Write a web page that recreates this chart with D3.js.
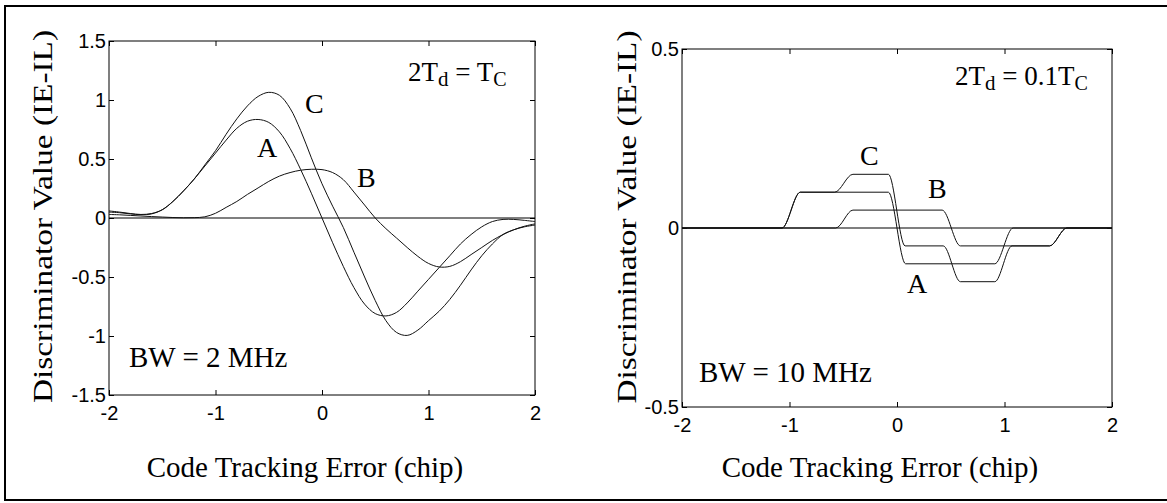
<!DOCTYPE html>
<html>
<head>
<meta charset="utf-8">
<script src="https://cdn.jsdelivr.net/npm/d3@7"></script>
<style>
body { margin:0; background:#fff; }
.serif { font-family: "Liberation Serif", "Times New Roman", serif; fill:#000; }
</style>
</head>
<body>
<svg id="fig" width="1167" height="503"></svg>
<script>
// left panel: BW = 2 MHz, 2Td = Tc
var x2 = [-2,-1.9,-1.8,-1.7,-1.6,-1.5,-1.4,-1.3,-1.2,-1.1,-1,-0.9,-0.8,-0.7,-0.6,-0.5,-0.4,-0.3,-0.2,-0.1,
          0,0.1,0.2,0.3,0.4,0.5,0.6,0.7,0.8,0.9,1,1.1,1.2,1.3,1.4,1.5,1.6,1.7,1.8,1.9,2];
var a2 = [0.05,0.045,0.035,0.028,0.035,0.07,0.14,0.23,0.33,0.44,0.55,0.66,0.76,0.82,0.835,0.81,0.73,0.59,0.41,0.21,
          0,-0.21,-0.41,-0.59,-0.73,-0.81,-0.83,-0.8,-0.72,-0.62,-0.52,-0.42,-0.32,-0.22,-0.14,-0.075,-0.03,-0.012,-0.012,-0.02,-0.03];
var b2 = [0.03,0.027,0.022,0.017,0.012,0.008,0.004,0.002,0.003,0.01,0.04,0.09,0.14,0.2,0.255,0.31,0.355,0.385,0.405,0.413,
          0.41,0.385,0.325,0.22,0.11,0,-0.09,-0.17,-0.25,-0.325,-0.385,-0.415,-0.41,-0.37,-0.31,-0.25,-0.19,-0.14,-0.1,-0.07,-0.05];
var c2 = [0.06,0.05,0.038,0.03,0.038,0.07,0.14,0.23,0.33,0.45,0.57,0.71,0.84,0.95,1.03,1.065,1.04,0.93,0.74,0.51,
          0.29,0.1,-0.08,-0.29,-0.5,-0.7,-0.87,-0.97,-0.995,-0.95,-0.87,-0.79,-0.69,-0.57,-0.44,-0.32,-0.22,-0.14,-0.1,-0.075,-0.06];

// right panel: BW = 10 MHz, 2Td = 0.1Tc
var xa10 = [-2,-1.07,-0.9,-0.08,0.08,0.91,1.08,2];
var a10  = [0,0,0.1,0.1,-0.1,-0.1,0,0];
var xb10 = [-2,-0.57,-0.41,0.42,0.59,1.42,1.58,2];
var b10  = [0,0,0.05,0.05,-0.05,-0.05,0,0];
var xc10 = [-2,-1.07,-0.9,-0.58,-0.41,-0.08,0.075,0.43,0.59,0.91,1.07,1.42,1.58,2];
var c10  = [0,0,0.1,0.1,0.15,0.15,-0.05,-0.05,-0.15,-0.15,-0.05,-0.05,0,0];

var xTicks = [-2,-1,0,1,2];
var yTicks2 = [-1.5,-1,-0.5,0,0.5,1,1.5];
var yTicks10 = [-0.5,0,0.5];

var svg = d3.select("#fig");

// outer frame
svg.append("rect").attr("x",5).attr("y",6).attr("width",1170).attr("height",494)
    .attr("fill","none").attr("stroke","#000").attr("stroke-width",2);

var panel = function(cfg) {
    var g = svg.append("g");
    var x = d3.scaleLinear().domain([-2,2]).range([cfg.left, cfg.right]);
    var y = d3.scaleLinear().domain(cfg.ydom).range([cfg.bottom, cfg.top]);
    var fmt = function(d){ return String(d); };

    g.append("g").attr("transform","translate(0,"+cfg.bottom+")")
        .call(d3.axisBottom(x).tickValues(xTicks).tickFormat(fmt).tickSizeInner(-5).tickSizeOuter(0).tickPadding(11));
    g.append("g").attr("transform","translate(0,"+cfg.top+")")
        .call(d3.axisTop(x).tickValues(xTicks).tickFormat("").tickSizeInner(-5).tickSizeOuter(0));
    g.append("g").attr("transform","translate("+cfg.left+",0)")
        .call(d3.axisLeft(y).tickValues(cfg.yticks).tickFormat(fmt).tickSizeInner(-5).tickSizeOuter(0).tickPadding(3));
    g.append("g").attr("transform","translate("+cfg.right+",0)")
        .call(d3.axisRight(y).tickValues(cfg.yticks).tickFormat("").tickSizeInner(-5).tickSizeOuter(0));
    g.selectAll(".domain").remove();
    g.selectAll(".tick line").attr("stroke","#000");
    g.selectAll(".tick text").attr("font-family","Arial, 'Liberation Sans', sans-serif")
        .attr("font-size",20).attr("fill","#000");

    g.append("rect").attr("x",cfg.left).attr("y",cfg.top)
        .attr("width",cfg.right-cfg.left).attr("height",cfg.bottom-cfg.top)
        .attr("fill","none").attr("stroke","#000").attr("stroke-width",1);

    g.append("line").attr("x1",x(-2)).attr("x2",x(2)).attr("y1",y(0)).attr("y2",y(0))
        .attr("stroke","#000").attr("stroke-width",1.2);

    var line = d3.line().x(function(d){ return x(d[0]); }).y(function(d){ return y(d[1]); }).curve(cfg.curve);
    cfg.series.forEach(function(s) {
        g.append("path").datum(d3.zip(s[0], s[1])).attr("d", line)
            .attr("fill","none").attr("stroke","#111").attr("stroke-width",1);
    });

    cfg.labels.forEach(function(l) {
        g.append("text").attr("class","serif").attr("x",l[1]).attr("y",l[2])
            .attr("font-size",28).text(l[0]);
    });

    g.append("text").attr("class","serif").attr("x",cfg.bw[0]).attr("y",cfg.bw[1])
        .attr("font-size",29).text(cfg.bw[2]);

    var t = g.append("text").attr("class","serif").attr("x",cfg.td[0]).attr("y",cfg.td[1]).attr("font-size",27);
    t.append("tspan").text("2T");
    t.append("tspan").attr("font-size",21).attr("dy",5).text("d");
    t.append("tspan").attr("dy",-5).text(" = " + cfg.td[2] + "T");
    t.append("tspan").attr("font-size",20).attr("dy",5).text("C");

    g.append("text").attr("class","serif").attr("x",cfg.xlab[0]).attr("y",cfg.xlab[1])
        .attr("text-anchor","middle").attr("font-size",29).text("Code Tracking Error (chip)");
    g.append("text").attr("class","serif")
        .attr("transform","translate("+cfg.ylab[0]+","+cfg.ylab[1]+") rotate(-90)")
        .attr("text-anchor","middle").attr("font-size",28)
        .attr("textLength",373).attr("lengthAdjust","spacingAndGlyphs")
        .text("Discriminator Value (IE-IL)");
};

panel({
    left:109, right:535, top:41, bottom:395, ydom:[-1.5,1.5], yticks:yTicks2,
    curve:d3.curveCatmullRom.alpha(0.5),
    series:[[x2,a2],[x2,b2],[x2,c2]],
    labels:[["C",305,113],["A",257,157],["B",357,187]],
    bw:[129,367,"BW = 2 MHz"], td:[408,81,""],
    xlab:[305,477], ylab:[52,216.5]
});

panel({
    left:682, right:1112, top:49, bottom:407, ydom:[-0.5,0.5], yticks:yTicks10,
    curve:d3.curveMonotoneX,
    series:[[xa10,a10],[xb10,b10],[xc10,c10]],
    labels:[["C",860,165],["B",928,198],["A",907,293]],
    bw:[699,382,"BW = 10 MHz"], td:[955,85,"0.1"],
    xlab:[880,477], ylab:[636,217]
});
</script>
</body>
</html>
